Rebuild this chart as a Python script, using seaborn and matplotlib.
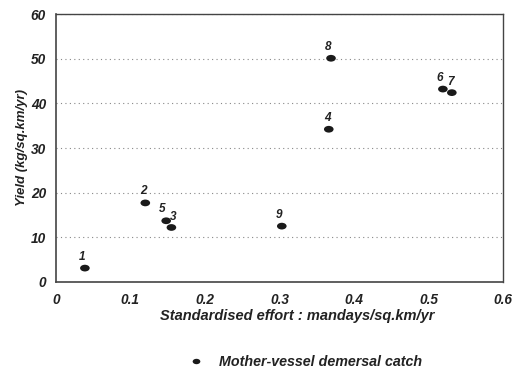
import matplotlib
matplotlib.use("Agg")
import matplotlib.pyplot as plt
from matplotlib.path import Path
from matplotlib.transforms import Affine2D
import seaborn as sns
import pandas as pd
from matplotlib.ticker import MultipleLocator

# Mother-vessel demersal catch per site
site_labels = ["1", "2", "3", "4", "5", "6", "7", "8", "9"]
effort = [0.039, 0.120, 0.155, 0.366, 0.148, 0.519, 0.531, 0.369, 0.303]
yield_vals = [3.1, 17.7, 12.2, 34.2, 13.7, 43.2, 42.4, 50.1, 12.5]

# label offsets in points (dx, dy)
label_offsets = {"1": (-2, 4), "2": (-1, 4), "3": (1, 3), "4": (-1, 4), "5": (-3, 4),
                 "6": (-2, 4), "7": (-1, 3), "8": (-2, 4), "9": (-2, 4)}

x_ticks = [0, 0.1, 0.2, 0.3, 0.4, 0.5, 0.6]
x_tick_labels = ["0", "0.1", "0.2", "0.3", "0.4", "0.5", "0.6"]
y_ticks = [0, 10, 20, 30, 40, 50, 60]

df = pd.DataFrame({"site": site_labels, "effort": effort, "yield": yield_vals,
                   "series": "Mother-vessel demersal catch"})

sns.set_style("white")
plt.rcParams["font.family"] = ["Liberation Sans", "DejaVu Sans"]

# flattened elliptical dot
ellipse = Path.unit_circle().transformed(Affine2D().scale(1.0, 0.7))

fig = plt.figure(figsize=(5.12, 3.70), dpi=100)
ax = fig.add_axes([0.109, 0.238, 0.874, 0.724])

sns.scatterplot(data=df, x="effort", y="yield", hue="series",
                palette=["#1a1a1a"], marker=ellipse, s=48, edgecolor="none",
                ax=ax, legend=True)

for s, xv, yv in zip(site_labels, effort, yield_vals):
    dx, dy = label_offsets[s]
    ax.annotate(s, (xv, yv), xytext=(dx, dy), textcoords="offset points",
                ha="center", va="bottom", fontsize=8.5, fontweight="bold",
                fontstyle="italic", color="#222222")

ax.set_xlim(0, 0.6)
ax.set_ylim(0, 60)
ax.set_xticks(x_ticks)
ax.set_xticklabels(x_tick_labels)
ax.set_yticks(y_ticks)
ax.xaxis.set_minor_locator(MultipleLocator(0.05))
ax.yaxis.set_minor_locator(MultipleLocator(5))
ax.tick_params(axis="both", which="major", direction="inout", length=6, width=0.9,
               colors="#333333", labelcolor="#222222", labelsize=9.8, pad=4)
ax.tick_params(axis="both", which="minor", direction="inout", length=3, width=0.8,
               colors="#333333")
ax.tick_params(axis="x", pad=5)
for lab in ax.get_xticklabels() + ax.get_yticklabels():
    lab.set_fontweight("bold")
    lab.set_fontstyle("italic")

ax.yaxis.grid(True, linestyle=(0, (1, 3)), color="#888888", linewidth=0.8)
ax.xaxis.grid(False)
for sp in ax.spines.values():
    sp.set_color("#444444")
    sp.set_linewidth(1.0)
ax.spines["left"].set_linewidth(1.2)
ax.spines["bottom"].set_linewidth(1.2)

ax.set_xlabel("Standardised effort : mandays/sq.km/yr", fontsize=10.5,
              fontweight="bold", fontstyle="italic", color="#222222", labelpad=1)
ax.xaxis.set_label_coords(0.54, -0.102)
ax.set_ylabel("Yield (kg/sq.km/yr)", fontsize=9.5, fontweight="bold",
              fontstyle="italic", color="#222222", labelpad=2)

leg = ax.legend(loc="center", bbox_to_anchor=(0.55, -0.30), frameon=False,
                prop={"size": 10.3, "weight": "bold", "style": "italic"},
                handletextpad=0.6, markerscale=0.8)
for t in leg.get_texts():
    t.set_color("#222222")

fig.savefig("out.png", dpi=100)
